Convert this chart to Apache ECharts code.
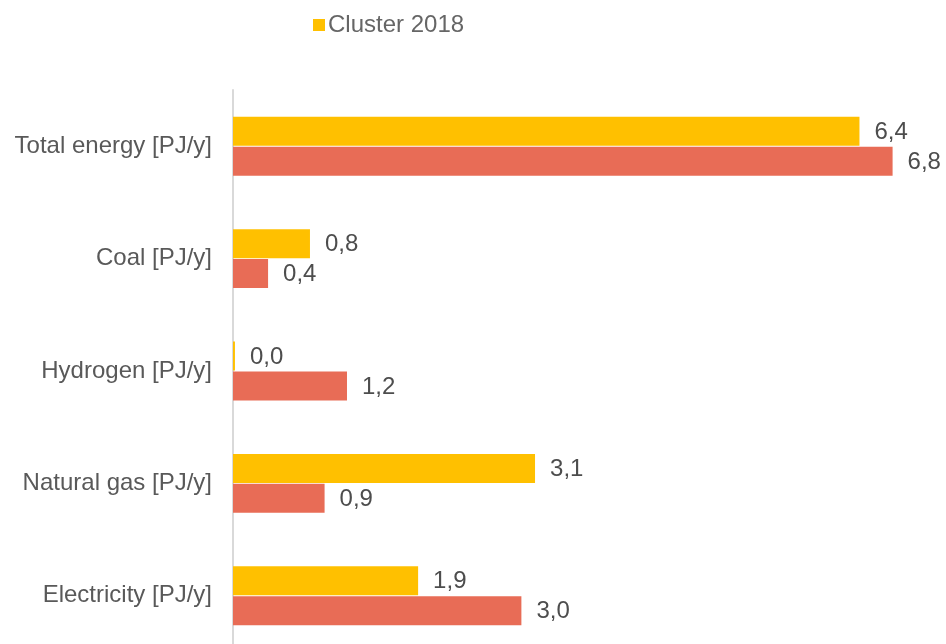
<!DOCTYPE html>
<html>
<head>
<meta charset="utf-8">
<script src="https://cdn.jsdelivr.net/npm/echarts@6/dist/echarts.min.js"></script>
<style>
  html, body { margin: 0; padding: 0; background: #fff; overflow: hidden; }
  /* the reference crops the last category band, so the chart is a bit taller than the window */
  #chart { width: 946px; height: 660px; }
</style>
</head>
<body>
<div id="chart"></div>
<script>
// categories, top to bottom
var categories = ['Total energy [PJ/y]', 'Coal [PJ/y]', 'Hydrogen [PJ/y]', 'Natural gas [PJ/y]', 'Electricity [PJ/y]'];
var cluster2018 = [6.43, 0.79, 0.02, 3.1, 1.9];
var secondSeries = [6.77, 0.36, 1.17, 0.94, 2.96];

function fmt(p) {
    return p.value.toFixed(1).replace('.', ',');
}

var option = {
    backgroundColor: '#fff',
    textStyle: { fontFamily: 'Liberation Sans, Arial, sans-serif' },
    legend: {
        data: ['Cluster 2018'],
        left: 308,
        top: 8,
        itemWidth: 12,
        itemHeight: 12,
        itemGap: 6,
        icon: 'rect',
        textStyle: { fontSize: 24, color: '#666666', padding: [0, 0, 0, -2] }
    },
    grid: {
        left: 233,
        top: 90,
        width: 682,
        height: 562
    },
    xAxis: {
        type: 'value',
        min: 0,
        max: 7,
        show: false
    },
    yAxis: {
        type: 'category',
        inverse: true,
        data: categories,
        axisLine: { lineStyle: { color: '#d9d9d9', width: 2 } },
        axisTick: { show: false },
        axisLabel: { fontSize: 24, color: '#595959', margin: 21 }
    },
    series: [
        {
            name: 'Cluster 2018',
            type: 'bar',
            data: cluster2018,
            barWidth: 29,
            barGap: '3%',
            itemStyle: { color: '#FFC000' },
            label: {
                show: true,
                position: 'right',
                distance: 15,
                fontSize: 24,
                color: '#4d4d4d',
                offset: [0, 1],
                formatter: fmt
            }
        },
        {
            name: 'Cluster 2030',
            type: 'bar',
            data: secondSeries,
            barWidth: 29,
            itemStyle: { color: '#E86C56' },
            label: {
                show: true,
                position: 'right',
                distance: 15,
                fontSize: 24,
                color: '#4d4d4d',
                offset: [0, 1],
                formatter: fmt
            }
        }
    ]
};

var myChart = echarts.init(document.getElementById('chart'));
myChart.setOption(option);
</script>
</body>
</html>
